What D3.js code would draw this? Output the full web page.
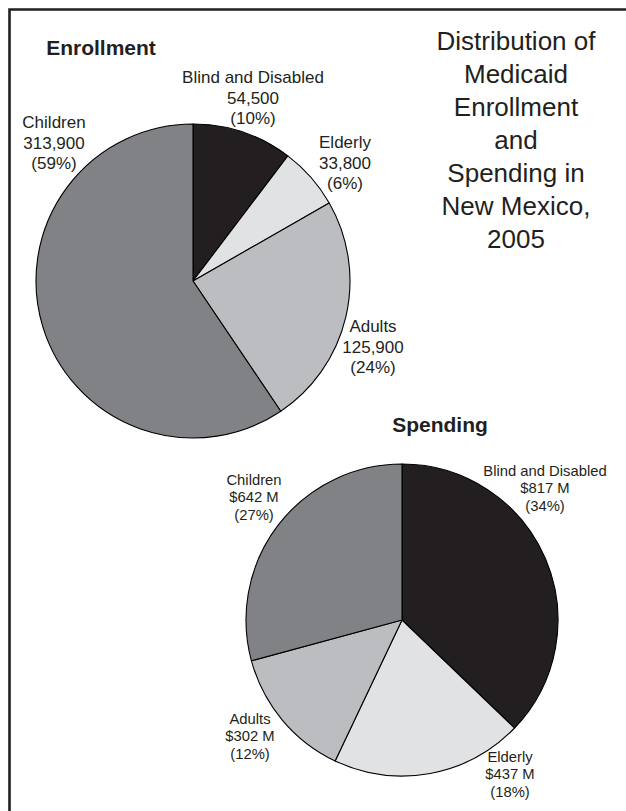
<!DOCTYPE html>
<html>
<head>
<meta charset="utf-8">
<style>
  body { margin: 0; background: #fff; }
  svg { display: block; }
  text { font-family: "Liberation Sans", Arial, sans-serif; fill: #231f20; }
</style>
</head>
<body>
<div id="chart"></div>
<script src="https://cdn.jsdelivr.net/npm/d3@7"></script>
<script>
'use strict';

// data
var groups = ['Blind and Disabled', 'Elderly', 'Adults', 'Children'];
var enrollValues = [54500, 33800, 125900, 313900];
var enrollPct = [10, 6, 24, 59];
var spendValues = [817, 437, 302, 642];   // $ millions
var spendPct = [34, 18, 12, 27];
var titleLines = ['Distribution of', 'Medicaid', 'Enrollment', 'and', 'Spending in', 'New Mexico,', '2005'];

var fills = d3.scaleOrdinal()
  .domain(groups)
  .range(['#231f20', '#e1e2e4', '#bcbdc0', '#808285']);

var W = 626, H = 811;
var svg = d3.select('#chart').append('svg')
  .attr('width', W).attr('height', H);

// frame (top and left rules only)
svg.append('path')
  .attr('d', 'M9.5,' + H + 'V9.5H' + W)
  .attr('fill', 'none')
  .attr('stroke', '#231f20')
  .attr('stroke-width', 2.6);

// big title on the right
svg.append('g').selectAll('text')
  .data(titleLines)
  .join('text')
    .attr('x', 516)
    .attr('y', function(d, i) { return 50 + i * 33; })
    .attr('text-anchor', 'middle')
    .attr('font-size', 26)
    .text(function(d) { return d; });

var pie = d3.pie().sort(null).startAngle(0).endAngle(2 * Math.PI);

function drawPie(opt) {
  var g = svg.append('g').attr('transform', 'translate(' + opt.cx + ',' + opt.cy + ')');
  var arc = d3.arc().innerRadius(0).outerRadius(opt.r);
  g.selectAll('path')
    .data(pie(opt.values))
    .join('path')
      .attr('d', arc)
      .attr('fill', function(d, i) { return fills(groups[i]); })
      .attr('stroke', '#000')
      .attr('stroke-width', 1.1)
      .attr('stroke-linejoin', 'round');

  svg.append('text')
    .attr('x', opt.titleX).attr('y', opt.titleY)
    .attr('text-anchor', 'middle')
    .attr('font-size', 21)
    .attr('font-weight', 'bold')
    .text(opt.title);

  groups.forEach(function(name, i) {
    var p = opt.labels[i];
    var lines = [name, opt.fmt(opt.values[i]), '(' + opt.pct[i] + '%)'];
    svg.append('g').selectAll('text')
      .data(lines)
      .join('text')
        .attr('x', p[0])
        .attr('y', function(d, j) { return p[1] + j * opt.lh; })
        .attr('text-anchor', 'middle')
        .attr('font-size', opt.fs)
        .text(function(d) { return d; });
  });
}

drawPie({
  cx: 193, cy: 281, r: 157,
  values: enrollValues, pct: enrollPct,
  fmt: d3.format(','),
  title: 'Enrollment', titleX: 101, titleY: 55,
  fs: 17, lh: 20.7,
  // first-line baselines of each label
  labels: [[253, 83], [345, 148], [373, 332], [54, 128]]
});

drawPie({
  cx: 402, cy: 620, r: 156,
  values: spendValues, pct: spendPct,
  fmt: function(v) { return '$' + v + ' M'; },
  title: 'Spending', titleX: 440, titleY: 432,
  fs: 14.8, lh: 17.4,
  labels: [[545, 476], [510, 762], [250, 724], [254, 485]]
});
</script>
</body>
</html>
